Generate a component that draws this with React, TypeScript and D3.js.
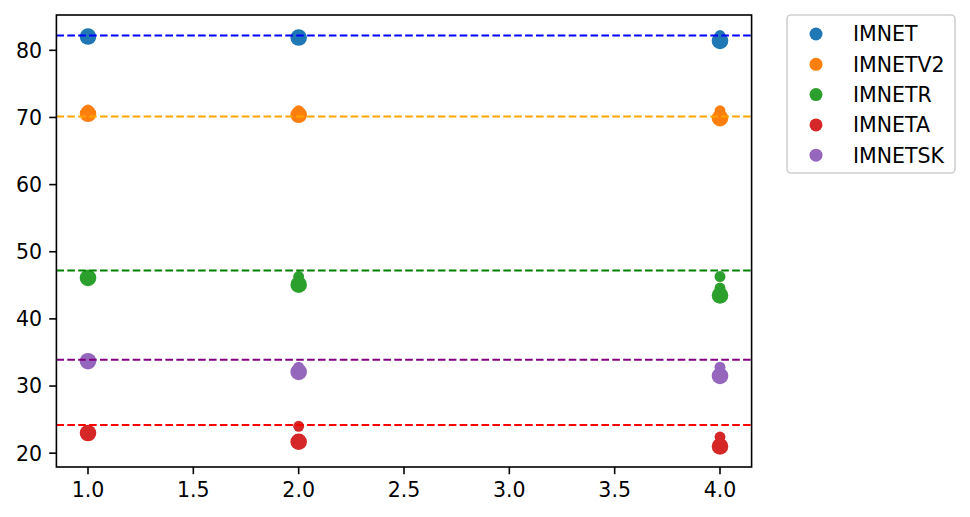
import React from "react";
import * as d3 from "d3";

const seriesNames = ["IMNET", "IMNETV2", "IMNETR", "IMNETA", "IMNETSK"];
const seriesColors = ["#1f77b4", "#ff7f0e", "#2ca02c", "#d62728", "#9467bd"];
const refColors = ["blue", "orange", "green", "red", "purple"];
const refValues = [82.2, 70.15, 47.2, 24.2, 33.9];

// [x, value, marker area]
const imnet: [number, number, number][] = [[1, 82.05, 60], [2, 81.9, 60], [4, 82.2, 26], [4, 81.4, 60]];
const imnetv2: [number, number, number][] = [[1, 71.1, 26], [1, 70.55, 60], [2, 71.0, 26], [2, 70.4, 60], [4, 71.0, 26], [4, 69.9, 60]];
const imnetr: [number, number, number][] = [[1, 46.5, 26], [1, 46.1, 60], [2, 46.3, 26], [2, 45.1, 60], [4, 46.3, 26], [4, 44.6, 26], [4, 43.5, 60]];
const imneta: [number, number, number][] = [[1, 23.0, 60], [2, 24.0, 26], [2, 21.7, 60], [4, 22.4, 26], [4, 21.0, 60]];
const imnetsk: [number, number, number][] = [[1, 33.7, 60], [2, 32.8, 26], [2, 32.1, 60], [4, 32.8, 26], [4, 31.5, 60]];
const seriesData = [imnet, imnetv2, imnetr, imneta, imnetsk];

const xTicks = [1.0, 1.5, 2.0, 2.5, 3.0, 3.5, 4.0];
const yTicks = [20, 30, 40, 50, 60, 70, 80];

export default function App() {
  const W = 970, H = 517;
  const left = 56.4, right = 751.6, top = 15, bottom = 467;
  const font = "DejaVu Sans, sans-serif";
  const fs = 20.5;

  const allX = seriesData.flat().map((d) => d[0]);
  const allY = seriesData.flat().map((d) => d[1]).concat(refValues);
  const [x0, x1] = d3.extent(allX) as [number, number];
  const [y0, y1] = d3.extent(allY) as [number, number];
  const mx = (x1 - x0) * 0.05, my = (y1 - y0) * 0.05;
  const x = d3.scaleLinear().domain([x0 - mx, x1 + mx]).range([left, right]);
  const y = d3.scaleLinear().domain([y0 - my, y1 + my]).range([bottom, top]);
  const r = d3.scaleSqrt().domain([0, 60]).range([0, 8.3]);

  const tickLen = 7.2, pad = 7.2;
  const legX = 787, legY = 15, legW = 168, legH = 158;

  return (
    <svg width={W} height={H} style={{ position: "absolute", left: 0, top: 0, background: "#fff" }}>
      <rect x={0} y={0} width={W} height={H} fill="#fff" />
      <defs>
        <clipPath id="plotclip">
          <rect x={left} y={top} width={right - left} height={bottom - top} />
        </clipPath>
      </defs>
      <g clipPath="url(#plotclip)">
        {seriesData.map((s, i) =>
          s.map((d, j) => (
            <circle key={`${i}-${j}`} cx={x(d[0])} cy={y(d[1])} r={r(d[2])} fill={seriesColors[i]} />
          ))
        )}
        {refValues.map((v, i) => (
          <line key={i} x1={left} x2={right} y1={y(v)} y2={y(v)} stroke={refColors[i]} strokeWidth={2} strokeDasharray="7.6,3.3" />
        ))}
      </g>
      <rect x={left} y={top} width={right - left} height={bottom - top} fill="none" stroke="#000" strokeWidth={1.6} />
      {xTicks.map((t) => (
        <g key={t}>
          <line x1={x(t)} x2={x(t)} y1={bottom} y2={bottom + tickLen} stroke="#000" strokeWidth={1.6} />
          <text x={x(t)} y={bottom + tickLen + pad + fs * 0.76} textAnchor="middle" fontFamily={font} fontSize={fs} fill="#000">
            {t.toFixed(1)}
          </text>
        </g>
      ))}
      {yTicks.map((t) => (
        <g key={t}>
          <line x1={left - tickLen} x2={left} y1={y(t)} y2={y(t)} stroke="#000" strokeWidth={1.6} />
          <text x={left - tickLen - pad} y={y(t)} dy="0.36em" textAnchor="end" fontFamily={font} fontSize={fs} fill="#000">
            {t}
          </text>
        </g>
      ))}
      <rect x={legX} y={legY} width={legW} height={legH} rx={4} fill="#fff" fillOpacity={0.8} stroke="#d0d0d0" strokeWidth={1.6} />
      {seriesNames.map((n, i) => {
        const cy = legY + 19 + i * 30.3;
        return (
          <g key={n}>
            <circle cx={816} cy={cy} r={6.5} fill={seriesColors[i]} />
            <text x={853} y={cy} dy="0.36em" fontFamily={font} fontSize={fs} fill="#000">
              {n}
            </text>
          </g>
        );
      })}
    </svg>
  );
}
